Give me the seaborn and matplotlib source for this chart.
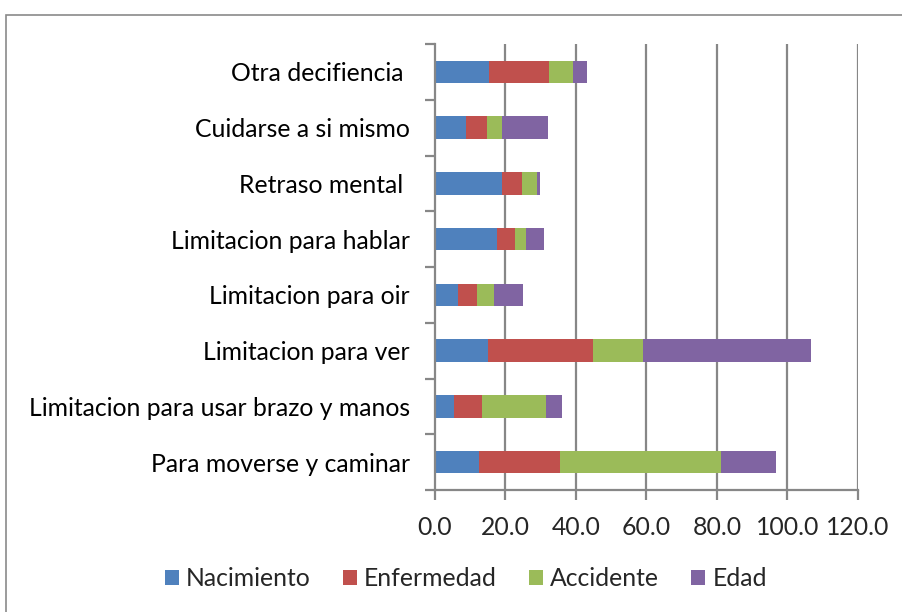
import matplotlib
matplotlib.use("Agg")
import matplotlib.pyplot as plt
import seaborn as sns
import pandas as pd
import numpy as np
from matplotlib.patches import Rectangle, Patch

categories = ["Otra decifiencia ", "Cuidarse a si mismo", "Retraso mental ",
              "Limitacion para hablar", "Limitacion para oir", "Limitacion para ver",
              "Limitacion para usar brazo y manos", "Para moverse y caminar"]
series = ["Nacimiento", "Enfermedad", "Accidente", "Edad"]
nacimiento = [15.2, 8.9, 19.1, 17.6, 6.6, 15.0, 5.5, 12.6]
enfermedad = [17.2, 5.8, 5.6, 5.1, 5.3, 29.9, 7.9, 22.8]
accidente = [6.7, 4.2, 4.1, 3.0, 4.8, 14.0, 18.0, 45.7]
edad = [4.1, 13.2, 1.1, 5.2, 8.2, 47.8, 4.6, 15.7]
colors = ["#4F81BD", "#C0504D", "#9BBB59", "#8064A2"]
xticks = [0, 20, 40, 60, 80, 100, 120]

sns.set_theme(style="white")
plt.rcParams["font.family"] = ["Lato", "DejaVu Sans"]
FS = 17.8

values = [nacimiento, enfermedad, accidente, edad]
cum = np.cumsum(np.array(values), axis=0)

fig = plt.figure(figsize=(9.03, 6.12), dpi=100)
ax = fig.add_axes([435/903, 1-490/612, (858-435)/903, (490-44)/612])

grid_c = "#878787"
for x in xticks[1:]:
    ax.axvline(x, color=grid_c, lw=1.6, zorder=0)

for i in range(3, -1, -1):
    df = pd.DataFrame({"cat": categories, "val": cum[i]})
    sns.barplot(data=df, y="cat", x="val", order=categories, orient="h",
                color=colors[i], width=0.4, saturation=1, ax=ax, zorder=2,
                edgecolor="none", linewidth=0)

ax.set_xlim(0, 120)
ax.set_ylim(7.5, -0.5)
ax.set_xticks(xticks)
ax.set_xticklabels([f"{v:.1f}" for v in xticks])
ax.set_xlabel("")
ax.set_ylabel("")
ax.set_yticks(range(len(categories)))
ax.set_yticklabels(categories)
ax.set_yticks(np.arange(-0.5, 8.0, 1.0), minor=True)
ax.tick_params(axis="y", which="major", length=0, pad=18, labelsize=FS, colors="#000000")
ax.tick_params(axis="y", which="minor", length=7, width=1.6, color=grid_c, left=True)
ax.tick_params(axis="x", which="major", length=7, width=1.6, color=grid_c, bottom=True,
               pad=12, labelsize=FS)
for s in ["top", "right"]:
    ax.spines[s].set_visible(False)
for s in ["left", "bottom"]:
    ax.spines[s].set_color(grid_c)
    ax.spines[s].set_linewidth(1.6)

handles = [Patch(facecolor=c, edgecolor="none") for c in colors]
fig.legend(handles, series, loc="center", bbox_to_anchor=(466/903, 1-579/612), ncol=4,
           frameon=False, fontsize=FS, handlelength=0.55, handleheight=0.55,
           handletextpad=0.3, columnspacing=1.3)

fig.patches.append(Rectangle((6/903, -0.1), 1.2, 1-15/612+0.1, transform=fig.transFigure,
                             fill=False, edgecolor="#8a8a8a", lw=1.2))

fig.savefig("out.png", dpi=100)
